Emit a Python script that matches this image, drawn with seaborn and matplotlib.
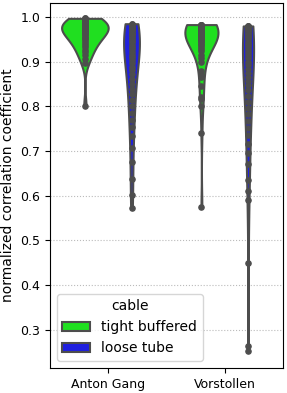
import pandas as pd
import numpy as np
import matplotlib
matplotlib.use("Agg")
import matplotlib.pyplot as plt
import seaborn as sns

# correlation values
anton_tight = [0.997, 0.997, 0.995, 0.993, 0.991, 0.990, 0.988, 0.986, 0.985, 0.983,
               0.981, 0.980, 0.978, 0.976, 0.975, 0.973, 0.971, 0.969, 0.967, 0.964,
               0.962, 0.959, 0.956, 0.953, 0.950, 0.946, 0.942, 0.938, 0.933, 0.927,
               0.921, 0.915, 0.906, 0.896, 0.800]
anton_loose = [0.985, 0.984, 0.982, 0.980, 0.978, 0.976, 0.974, 0.971, 0.968, 0.965,
               0.962, 0.959, 0.955, 0.951, 0.947, 0.943, 0.938, 0.933, 0.928, 0.922,
               0.916, 0.910, 0.903, 0.896, 0.889, 0.881, 0.872, 0.862, 0.851, 0.840,
               0.828, 0.815, 0.801, 0.786, 0.770, 0.753, 0.734, 0.708, 0.675, 0.638,
               0.601, 0.572]
vorst_tight = [0.983, 0.983, 0.982, 0.982, 0.981, 0.981, 0.980, 0.980, 0.979, 0.979,
               0.978, 0.977, 0.977, 0.976, 0.975, 0.974, 0.974, 0.973, 0.972, 0.971,
               0.970, 0.969, 0.968, 0.967, 0.966, 0.965, 0.964, 0.963, 0.962, 0.960,
               0.959, 0.957, 0.955, 0.953, 0.951, 0.949, 0.946, 0.943, 0.940, 0.937,
               0.933, 0.928, 0.923, 0.916, 0.908, 0.899, 0.880, 0.870, 0.865, 0.845,
               0.820, 0.817, 0.800, 0.740, 0.576]
vorst_loose = [0.980, 0.980, 0.979, 0.978, 0.977, 0.976, 0.974, 0.972, 0.970, 0.968,
               0.965, 0.962, 0.958, 0.955, 0.950, 0.945, 0.940, 0.935, 0.929, 0.922,
               0.915, 0.908, 0.900, 0.892, 0.884, 0.875, 0.866, 0.857, 0.847, 0.836,
               0.823, 0.810, 0.796, 0.782, 0.767, 0.752, 0.735, 0.715, 0.695, 0.672,
               0.635, 0.610, 0.590, 0.450, 0.265, 0.252]

sites = ["Anton Gang", "Vorstollen"]
cables = ["tight buffered", "loose tube"]

groups = [(sites[0], cables[0], anton_tight), (sites[0], cables[1], anton_loose),
          (sites[1], cables[0], vorst_tight), (sites[1], cables[1], vorst_loose)]
rows = []
for site, cable, vals in groups:
    for v in vals:
        rows.append({"site": site, "cable": cable, "value": v})
df = pd.DataFrame(rows)

fig, ax = plt.subplots(figsize=(2.87, 3.93), dpi=100)
fig.subplots_adjust(left=0.174, right=0.986, top=0.992, bottom=0.064)

sns.violinplot(data=df, x="site", y="value", hue="cable", order=sites, hue_order=cables,
               palette=["lime", "blue"], inner="point", cut=0, common_norm=True,
               linewidth=1.5, inner_kws=dict(s=14), ax=ax)

ax.set_ylim(0.215, 1.031)
ax.yaxis.grid(True, linestyle=":", color="#bbbbbb")
ax.set_axisbelow(True)
ax.tick_params(labelsize=9)
ax.set_xlabel("")
ax.set_ylabel("normalized correlation coefficient", fontsize=10)
ax.legend(title="cable", loc="lower left")

plt.savefig("out.png", dpi=100)
